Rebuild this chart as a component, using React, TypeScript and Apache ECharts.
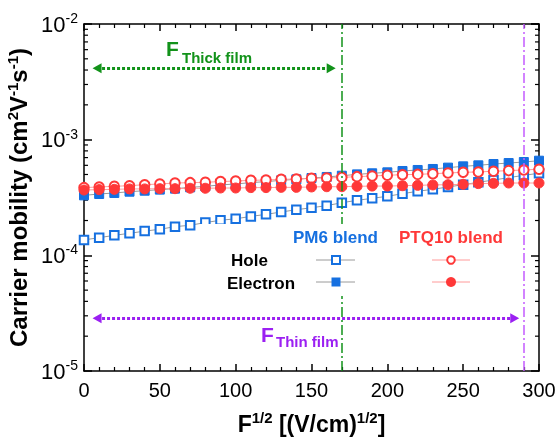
import React, { useEffect, useRef } from 'react';
import * as echarts from 'echarts';

// F^(1/2) positions [(V/cm)^(1/2)]
const fieldSqrt = [0, 10, 20, 30, 40, 50, 60, 70, 80, 90, 100, 110, 120, 130, 140, 150, 160, 170, 180, 190, 200, 210, 220, 230, 240, 250, 260, 270, 280, 290, 300];

// Carrier mobility (cm^2 V^-1 s^-1)
const pm6Hole = [1.36e-4, 1.42e-4, 1.49e-4, 1.55e-4, 1.62e-4, 1.68e-4, 1.77e-4, 1.82e-4, 1.92e-4, 2.01e-4, 2.07e-4, 2.17e-4, 2.26e-4, 2.37e-4, 2.48e-4, 2.58e-4, 2.69e-4, 2.85e-4, 2.99e-4, 3.11e-4, 3.24e-4, 3.41e-4, 3.58e-4, 3.72e-4, 3.90e-4, 4.08e-4, 4.28e-4, 4.48e-4, 4.69e-4, 4.92e-4, 5.12e-4];
const pm6Electron = [3.30e-4, 3.39e-4, 3.46e-4, 3.55e-4, 3.62e-4, 3.70e-4, 3.77e-4, 3.87e-4, 3.95e-4, 4.06e-4, 4.14e-4, 4.25e-4, 4.34e-4, 4.45e-4, 4.54e-4, 4.66e-4, 4.76e-4, 4.88e-4, 5.01e-4, 5.12e-4, 5.22e-4, 5.36e-4, 5.47e-4, 5.58e-4, 5.73e-4, 5.88e-4, 6.00e-4, 6.16e-4, 6.28e-4, 6.41e-4, 6.58e-4];
const ptq10Hole = [3.85e-4, 3.90e-4, 3.95e-4, 4.00e-4, 4.08e-4, 4.14e-4, 4.22e-4, 4.25e-4, 4.28e-4, 4.34e-4, 4.39e-4, 4.45e-4, 4.48e-4, 4.54e-4, 4.57e-4, 4.63e-4, 4.66e-4, 4.72e-4, 4.79e-4, 4.85e-4, 4.92e-4, 4.98e-4, 5.01e-4, 5.08e-4, 5.15e-4, 5.22e-4, 5.26e-4, 5.33e-4, 5.40e-4, 5.47e-4, 5.55e-4];
const ptq10Electron = [3.67e-4, 3.70e-4, 3.72e-4, 3.75e-4, 3.75e-4, 3.77e-4, 3.77e-4, 3.80e-4, 3.80e-4, 3.82e-4, 3.82e-4, 3.85e-4, 3.85e-4, 3.87e-4, 3.87e-4, 3.90e-4, 3.92e-4, 3.92e-4, 3.95e-4, 3.97e-4, 3.97e-4, 4.00e-4, 4.03e-4, 4.06e-4, 4.08e-4, 4.11e-4, 4.17e-4, 4.19e-4, 4.22e-4, 4.22e-4, 4.22e-4];

// axes
const xMin = 0;
const xMax = 300;
const xInterval = 50;
const yMin = 1e-5;
const yMax = 1e-2;
const yMinorMultipliers = [2, 3, 4, 5, 6, 7, 8, 9];
const yMinorDecades = [1e-5, 1e-4, 1e-3];

// field markers
const thickFilmField = 170;
const thinFilmField = 290;
const thickArrow = { from: 8.6, to: 163, y: 4.14e-3 };
const thinArrow = { from: 8.6, to: 284, y: 2.86e-5 };

const BLUE = '#1670e0';
const RED = '#ff3838';
const GREEN = '#12921a';
const PURPLE = '#9b20f2';
const LIGHT_PURPLE = '#c35bff';
const FONT = '"Liberation Sans", Arial, sans-serif';

export default function App() {
  const ref = useRef<HTMLDivElement>(null);

  useEffect(() => {
    const chart = echarts.init(ref.current!, null, { renderer: 'svg' });
    const pairs = (ys: number[]) => fieldSqrt.map((x, i) => [x, ys[i]]);
    const minorData: number[][] = [];
    yMinorDecades.forEach((d) => yMinorMultipliers.forEach((m) => minorData.push([0, m * d])));

    const axisLine = { show: true, onZero: false, lineStyle: { color: '#000', width: 1.5 } };
    const arrowLine = (color: string) => ({ color, width: 3, type: [3, 2] as any, cap: 'butt' });
    const dashDot = (color: string) => ({ color, width: 1.5, type: [10, 3, 2, 3] as any });

    const option: any = {
      animation: false,
      textStyle: { fontFamily: FONT },
      grid: { left: 84, right: 20, top: 24, bottom: 67, containLabel: false, outerBoundsMode: 'none' },
      xAxis: [
        {
          type: 'value', min: xMin, max: xMax, interval: xInterval, position: 'bottom',
          axisLine, splitLine: { show: false },
          axisTick: { show: true, inside: true, length: 7, lineStyle: { color: '#000', width: 1.5 } },
          minorTick: { show: true, splitNumber: 5, length: 4, lineStyle: { color: '#000', width: 1.2 } },
          minorSplitLine: { show: false },
          axisLabel: { fontSize: 20, color: '#000', margin: 9, fontFamily: FONT },
          name: '{b|F}{s|1/2}{b| [(V/cm)}{s|1/2}{b|]}',
          nameLocation: 'middle', nameGap: 39,
          nameTextStyle: {
            rich: {
              b: { fontSize: 23, fontWeight: 'bold', color: '#000', fontFamily: FONT },
              s: { fontSize: 15, fontWeight: 'bold', color: '#000', fontFamily: FONT, padding: [0, 0, 12, 0] },
            },
          },
        },
        {
          type: 'value', min: xMin, max: xMax, interval: xInterval, position: 'top',
          axisLine, splitLine: { show: false },
          axisTick: { show: true, inside: true, length: 7, lineStyle: { color: '#000', width: 1.5 } },
          minorTick: { show: true, splitNumber: 5, length: 4, lineStyle: { color: '#000', width: 1.2 } },
          axisLabel: { show: false },
        },
      ],
      yAxis: [
        {
          type: 'log', logBase: 10, min: yMin, max: yMax, position: 'left',
          axisLine, splitLine: { show: false },
          axisTick: { show: true, inside: true, length: 8, lineStyle: { color: '#000', width: 1.5 } },
          axisLabel: {
            margin: 6,
            formatter: (v: number) => `{b|10}{s|${Math.round(Math.log10(v))}}`,
            rich: {
              b: { fontSize: 22, color: '#000', fontFamily: FONT },
              s: { fontSize: 14, color: '#000', fontFamily: FONT, padding: [0, 0, 12, 0] },
            },
          },
          name: '{b|Carrier mobility (cm}{s|2}{b|V}{s|-1}{b|s}{s|-1}{b|)}',
          nameLocation: 'middle', nameGap: 41, nameRotate: 90,
          nameTextStyle: {
            rich: {
              b: { fontSize: 24, fontWeight: 'bold', color: '#000', fontFamily: FONT },
              s: { fontSize: 15, fontWeight: 'bold', color: '#000', fontFamily: FONT, padding: [0, 0, 12, 0] },
            },
          },
        },
        {
          type: 'log', logBase: 10, min: yMin, max: yMax, position: 'right',
          axisLine, splitLine: { show: false },
          axisTick: { show: true, inside: true, length: 8, lineStyle: { color: '#000', width: 1.5 } },
          axisLabel: { show: false },
        },
      ],
      series: [
        {
          type: 'custom', xAxisIndex: 0, yAxisIndex: 0, silent: true, z: 1,
          data: minorData,
          renderItem: (params: any, api: any) => {
            const p = api.coord([0, api.value(1)]);
            const cs = params.coordSys;
            return {
              type: 'group',
              children: [
                { type: 'line', shape: { x1: cs.x, y1: p[1], x2: cs.x + 4, y2: p[1] }, style: { stroke: '#000', lineWidth: 1.2 } },
                { type: 'line', shape: { x1: cs.x + cs.width, y1: p[1], x2: cs.x + cs.width - 4, y2: p[1] }, style: { stroke: '#000', lineWidth: 1.2 } },
              ],
            };
          },
        },
        {
          name: 'PM6 hole', type: 'line', data: pairs(pm6Hole), z: 3,
          symbol: 'rect', symbolSize: 8.5,
          itemStyle: { color: '#fff', borderColor: BLUE, borderWidth: 2 },
          lineStyle: { color: '#9a9a9a', width: 1 },
          markLine: {
            silent: true, symbol: ['none', 'none'], label: { show: false },
            data: [
              { xAxis: thickFilmField, lineStyle: dashDot(GREEN) },
              { xAxis: thinFilmField, lineStyle: dashDot(LIGHT_PURPLE) },
              [
                { coord: [thickArrow.from, thickArrow.y], symbol: 'triangle', symbolSize: [10, 9], lineStyle: arrowLine(GREEN), itemStyle: { color: GREEN } },
                { coord: [thickArrow.to, thickArrow.y], symbol: 'triangle', symbolSize: [10, 9], lineStyle: arrowLine(GREEN), itemStyle: { color: GREEN } },
              ],
              [
                { coord: [thinArrow.from, thinArrow.y], symbol: 'triangle', symbolSize: [10, 9], lineStyle: arrowLine(PURPLE), itemStyle: { color: PURPLE } },
                { coord: [thinArrow.to, thinArrow.y], symbol: 'triangle', symbolSize: [10, 9], lineStyle: arrowLine(PURPLE), itemStyle: { color: PURPLE } },
              ],
            ],
          },
        },
        {
          name: 'PM6 electron', type: 'line', data: pairs(pm6Electron), z: 3,
          symbol: 'rect', symbolSize: 9,
          itemStyle: { color: BLUE, borderColor: BLUE, borderWidth: 1 },
          lineStyle: { color: '#9a9a9a', width: 1 },
        },
        {
          name: 'PTQ10 hole', type: 'line', data: pairs(ptq10Hole), z: 4,
          symbol: 'circle', symbolSize: 9.5,
          itemStyle: { color: '#fff', borderColor: RED, borderWidth: 2 },
          lineStyle: { color: '#ff9a9a', width: 1 },
        },
        {
          name: 'PTQ10 electron', type: 'line', data: pairs(ptq10Electron), z: 4,
          symbol: 'circle', symbolSize: 10,
          itemStyle: { color: RED, borderColor: RED, borderWidth: 1 },
          lineStyle: { color: '#ff9a9a', width: 1 },
        },
      ],
      graphic: [
        { type: 'rect', z: 50, shape: { x: 200, y: 224, width: 308, height: 72 }, style: { fill: '#fff' } },
        { type: 'text', z: 60, x: 293, y: 237, style: { text: 'PM6 blend', fill: BLUE, font: `bold 17px ${FONT}`, verticalAlign: 'middle' } },
        { type: 'text', z: 60, x: 399, y: 237, style: { text: 'PTQ10 blend', fill: RED, font: `bold 17px ${FONT}`, verticalAlign: 'middle' } },
        { type: 'text', z: 60, x: 231, y: 260, style: { text: 'Hole', fill: '#000', font: `bold 17px ${FONT}`, verticalAlign: 'middle' } },
        { type: 'text', z: 60, x: 227, y: 283, style: { text: 'Electron', fill: '#000', font: `bold 17px ${FONT}`, verticalAlign: 'middle' } },
        { type: 'line', z: 60, shape: { x1: 316, y1: 260, x2: 355, y2: 260 }, style: { stroke: '#9a9a9a', lineWidth: 1 } },
        { type: 'line', z: 60, shape: { x1: 316, y1: 282, x2: 355, y2: 282 }, style: { stroke: '#9a9a9a', lineWidth: 1 } },
        { type: 'rect', z: 61, shape: { x: 332, y: 256, width: 8, height: 8 }, style: { fill: '#fff', stroke: BLUE, lineWidth: 2 } },
        { type: 'rect', z: 61, shape: { x: 331.5, y: 277.5, width: 9, height: 9 }, style: { fill: BLUE } },
        { type: 'line', z: 60, shape: { x1: 432, y1: 260, x2: 470, y2: 260 }, style: { stroke: '#ff9a9a', lineWidth: 1 } },
        { type: 'line', z: 60, shape: { x1: 432, y1: 282, x2: 470, y2: 282 }, style: { stroke: '#ff9a9a', lineWidth: 1 } },
        { type: 'circle', z: 61, shape: { cx: 451, cy: 260, r: 3.8 }, style: { fill: '#fff', stroke: RED, lineWidth: 2 } },
        { type: 'circle', z: 61, shape: { cx: 451, cy: 282, r: 5 }, style: { fill: RED } },
        { type: 'text', z: 60, x: 166, y: 48.6, style: { text: 'F', fill: GREEN, font: `bold 21px ${FONT}`, verticalAlign: 'middle' } },
        { type: 'text', z: 60, x: 182, y: 57.4, style: { text: 'Thick film', fill: GREEN, font: `bold 15px ${FONT}`, verticalAlign: 'middle' } },
        { type: 'text', z: 60, x: 261, y: 334.6, style: { text: 'F', fill: PURPLE, font: `bold 21px ${FONT}`, verticalAlign: 'middle' } },
        { type: 'text', z: 60, x: 276, y: 341.4, style: { text: 'Thin film', fill: PURPLE, font: `bold 15px ${FONT}`, verticalAlign: 'middle' } },
      ],
    };

    chart.setOption(option);
    return () => chart.dispose();
  }, []);

  return <div ref={ref} style={{ position: 'fixed', left: 0, top: 0, width: 559, height: 438 }} />;
}
